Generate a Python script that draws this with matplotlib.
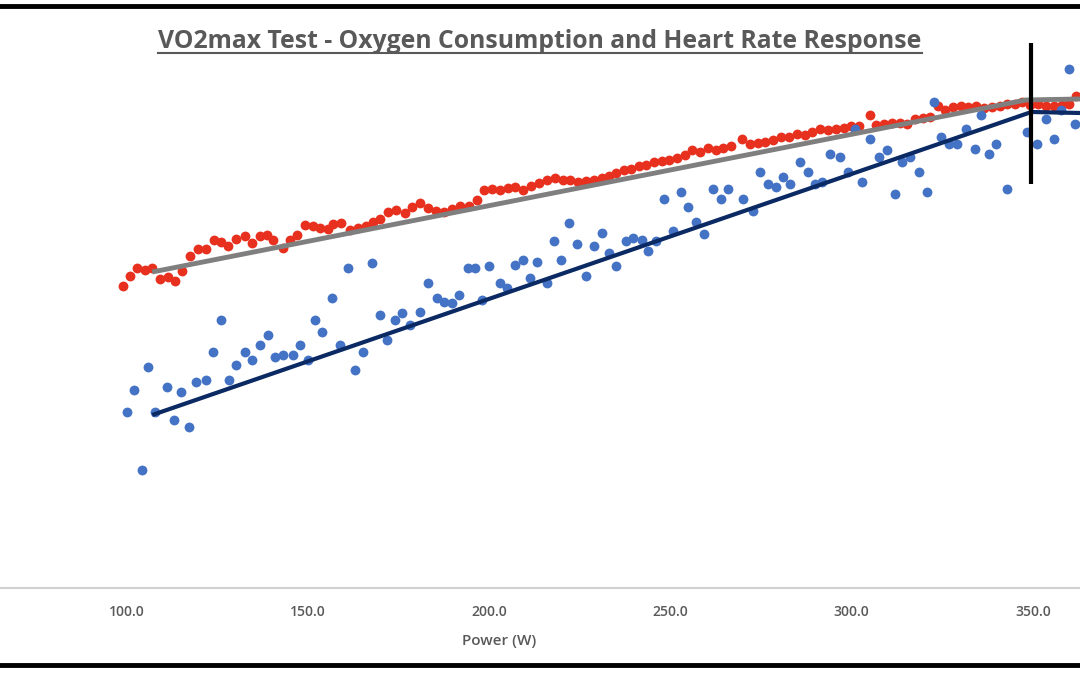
import numpy as np
import matplotlib.pyplot as plt
from matplotlib.lines import Line2D

# heart-rate-ish series (red) and VO2 series (blue)
red_power = [98.9, 100.8, 102.8, 105.0, 106.9, 109.1, 111.3, 113.2, 115.2, 117.4, 119.6, 121.8, 124.0, 125.9,
             127.9, 130.1, 132.6, 134.5, 136.7, 138.6, 140.3, 143.0, 145.0, 146.9, 149.1, 151.3, 153.3, 155.5,
             156.8, 159.1, 161.5, 163.7, 165.9, 167.9, 169.8, 172.0, 174.2, 176.7, 178.6, 180.8, 183.1, 185.3,
             187.5, 189.7, 191.9, 194.4, 196.6, 198.5, 200.7, 202.9, 205.1, 207.1, 209.3, 211.5, 213.7, 215.9,
             218.1, 220.3, 222.2, 224.4, 226.7, 228.9, 231.1, 233.0, 234.9, 237.1, 239.1, 241.3, 243.2, 245.4,
             247.6, 249.6, 251.8, 254.0, 255.9, 258.1, 260.3, 262.5, 264.5, 266.7, 269.7, 271.9, 274.1, 276.0,
             278.3, 280.5, 282.7, 284.9, 287.1, 289.0, 291.2, 293.4, 295.6, 297.8, 299.8, 302.0, 305.0, 306.7,
             308.9, 311.1, 313.3, 315.2, 317.4, 319.6, 321.6, 323.8, 325.7, 327.9, 330.1, 332.1, 334.3, 336.5,
             338.7, 340.9, 342.8, 345.0, 347.0, 349.2, 351.4, 353.6, 355.8, 358.0, 359.9, 361.9]
red_vals = [30.2, 31.2, 32.0, 31.8, 32.0, 30.9, 31.1, 30.7, 31.7, 33.2, 33.9, 33.9, 34.8, 34.6,
            34.2, 34.9, 35.2, 34.5, 35.2, 35.3, 34.8, 34.0, 34.8, 35.3, 36.3, 36.2, 36.0, 35.9,
            36.4, 36.5, 35.8, 36.0, 36.2, 36.6, 36.9, 37.6, 37.8, 37.5, 38.1, 38.5, 38.0, 37.7,
            37.6, 37.9, 38.2, 38.2, 38.8, 39.8, 39.9, 39.8, 40.0, 40.1, 39.8, 40.2, 40.5, 40.8,
            41.0, 40.8, 40.8, 40.6, 40.7, 40.8, 41.0, 41.2, 41.5, 41.8, 41.9, 42.2, 42.3, 42.6,
            42.7, 42.8, 43.0, 43.3, 43.8, 43.6, 44.0, 43.8, 44.0, 44.2, 44.9, 44.4, 44.5, 44.6,
            44.8, 45.1, 45.1, 45.4, 45.3, 45.6, 45.9, 45.8, 45.9, 46.0, 46.2, 46.2, 47.3, 46.3,
            46.4, 46.5, 46.5, 46.4, 46.9, 47.0, 47.1, 48.2, 47.8, 48.1, 48.2, 48.1, 48.2, 48.0,
            48.1, 48.2, 48.4, 48.4, 48.6, 48.3, 48.4, 48.2, 48.2, 48.3, 48.4, 49.2]

blue_power = [100.0, 101.9, 104.1, 105.8, 107.7, 111.0, 113.0, 114.9, 117.1, 119.0, 121.8, 123.7, 125.9, 128.1,
              130.1, 132.6, 134.5, 136.7, 138.9, 140.8, 143.0, 145.8, 147.7, 149.9, 151.9, 153.8, 156.6, 158.8,
              161.0, 162.9, 165.1, 167.6, 169.8, 171.7, 174.0, 175.9, 178.1, 180.8, 183.1, 185.5, 187.5, 189.7,
              191.6, 194.1, 196.0, 198.0, 199.9, 202.9, 204.9, 207.1, 209.3, 211.2, 213.1, 215.9, 217.8, 219.8,
              222.0, 224.2, 226.7, 228.9, 231.1, 233.0, 234.9, 237.7, 239.6, 242.1, 243.8, 246.0, 248.2, 250.7,
              252.9, 254.8, 257.0, 259.2, 261.7, 263.9, 265.8, 270.0, 272.7, 274.7, 276.9, 279.1, 281.0, 282.9,
              285.7, 287.9, 289.8, 291.8, 294.0, 296.7, 299.0, 300.9, 302.8, 305.0, 307.5, 309.7, 311.9, 313.9,
              316.1, 318.5, 320.8, 322.7, 324.6, 326.8, 329.0, 331.5, 334.0, 335.7, 337.9, 339.8, 342.8, 348.3,
              351.1, 353.6, 355.8, 357.7, 359.9, 361.6]
blue_vals = [17.6, 19.8, 11.8, 22.1, 17.6, 20.1, 16.8, 19.6, 16.1, 20.6, 20.8, 23.6, 26.8, 20.8,
             22.3, 23.6, 22.8, 24.3, 25.3, 23.1, 23.3, 23.3, 24.3, 22.8, 26.8, 25.6, 29.0, 24.3,
             32.0, 21.8, 23.6, 32.5, 27.3, 24.8, 26.8, 27.5, 26.3, 27.6, 30.5, 29.0, 28.6, 28.5,
             29.3, 32.0, 32.0, 28.8, 32.2, 30.5, 30.0, 32.3, 32.8, 31.0, 32.6, 30.5, 34.7, 32.8,
             36.5, 34.4, 31.2, 34.2, 35.5, 33.5, 32.2, 34.7, 35.0, 34.8, 33.7, 34.7, 38.9, 35.7,
             39.6, 38.1, 36.6, 35.4, 39.9, 38.9, 39.9, 38.9, 37.7, 41.6, 40.4, 40.1, 41.1, 40.4,
             42.6, 41.6, 40.4, 40.6, 43.4, 43.1, 41.6, 45.9, 40.6, 44.9, 43.1, 43.8, 39.4, 42.6,
             43.1, 41.6, 39.6, 48.6, 45.1, 44.4, 44.4, 45.9, 43.9, 47.3, 43.4, 44.4, 39.9, 45.6,
             44.4, 46.9, 44.9, 47.8, 51.9, 46.4]

# broken-stick fits
red_fit_x = [107, 348.1, 363]
red_fit_y = [31.6, 48.8, 48.9]
blue_fit_x = [107, 349.6, 363]
blue_fit_y = [17.3, 47.6, 47.5]
threshold = 349.6
threshold_span = (40.4, 54.5)

xticks = [100, 150, 200, 250, 300, 350]

fig = plt.figure(figsize=(10.8, 6.75), dpi=100)
ax = fig.add_axes([0, 0.1289, 1, 0.8415])

ax.plot(red_fit_x, red_fit_y, color='#7f7f7f', lw=3.5, zorder=3, solid_capstyle='butt')
ax.scatter(red_power, red_vals, s=50, color='#e8301f', zorder=2, linewidths=0)
ax.scatter(blue_power, blue_vals, s=50, color='#4472c4', zorder=2, linewidths=0)
ax.plot(blue_fit_x, blue_fit_y, color='#0b2a63', lw=3, zorder=3, solid_capstyle='butt')
ax.vlines(threshold, *threshold_span, color='black', lw=3, zorder=4)

ax.set_xlim(65, 363)
ax.set_ylim(0, 56.8)
ax.set_xticks(xticks)
ax.set_xticklabels([f'{t:.1f}' for t in xticks], fontsize=10, color='#595959',
                   fontfamily='Open Sans', fontweight='semibold')
ax.tick_params(axis='x', length=0, pad=12)
ax.set_yticks([])
for s in ['top', 'left', 'right']:
    ax.spines[s].set_visible(False)
ax.spines['bottom'].set_color('#d0d0d0')
ax.spines['bottom'].set_linewidth(1.5)

fig.text(0.462, 1 - 641 / 675, 'Power (W)', ha='center', va='center', fontsize=11,
         color='#595959', fontfamily='Open Sans', fontweight='semibold')

title = fig.text(0.5, 1 - 42 / 675, 'VO2max Test - Oxygen Consumption and Heart Rate Response',
                 ha='center', va='center', fontsize=17.8, color='#595959',
                 fontfamily='Open Sans', fontweight='bold')
fig.canvas.draw()
bb = title.get_window_extent().transformed(fig.transFigure.inverted())
fig.add_artist(Line2D([bb.x0, bb.x1], [bb.y0 + 0.002, bb.y0 + 0.002], color='#595959', lw=1.5))

# frame lines top and bottom
fig.add_artist(Line2D([0, 1], [1 - 6 / 675, 1 - 6 / 675], color='black', lw=3.5))
fig.add_artist(Line2D([0, 1], [1 - 665 / 675, 1 - 665 / 675], color='black', lw=3.5))

fig.savefig('out.png', dpi=100)
